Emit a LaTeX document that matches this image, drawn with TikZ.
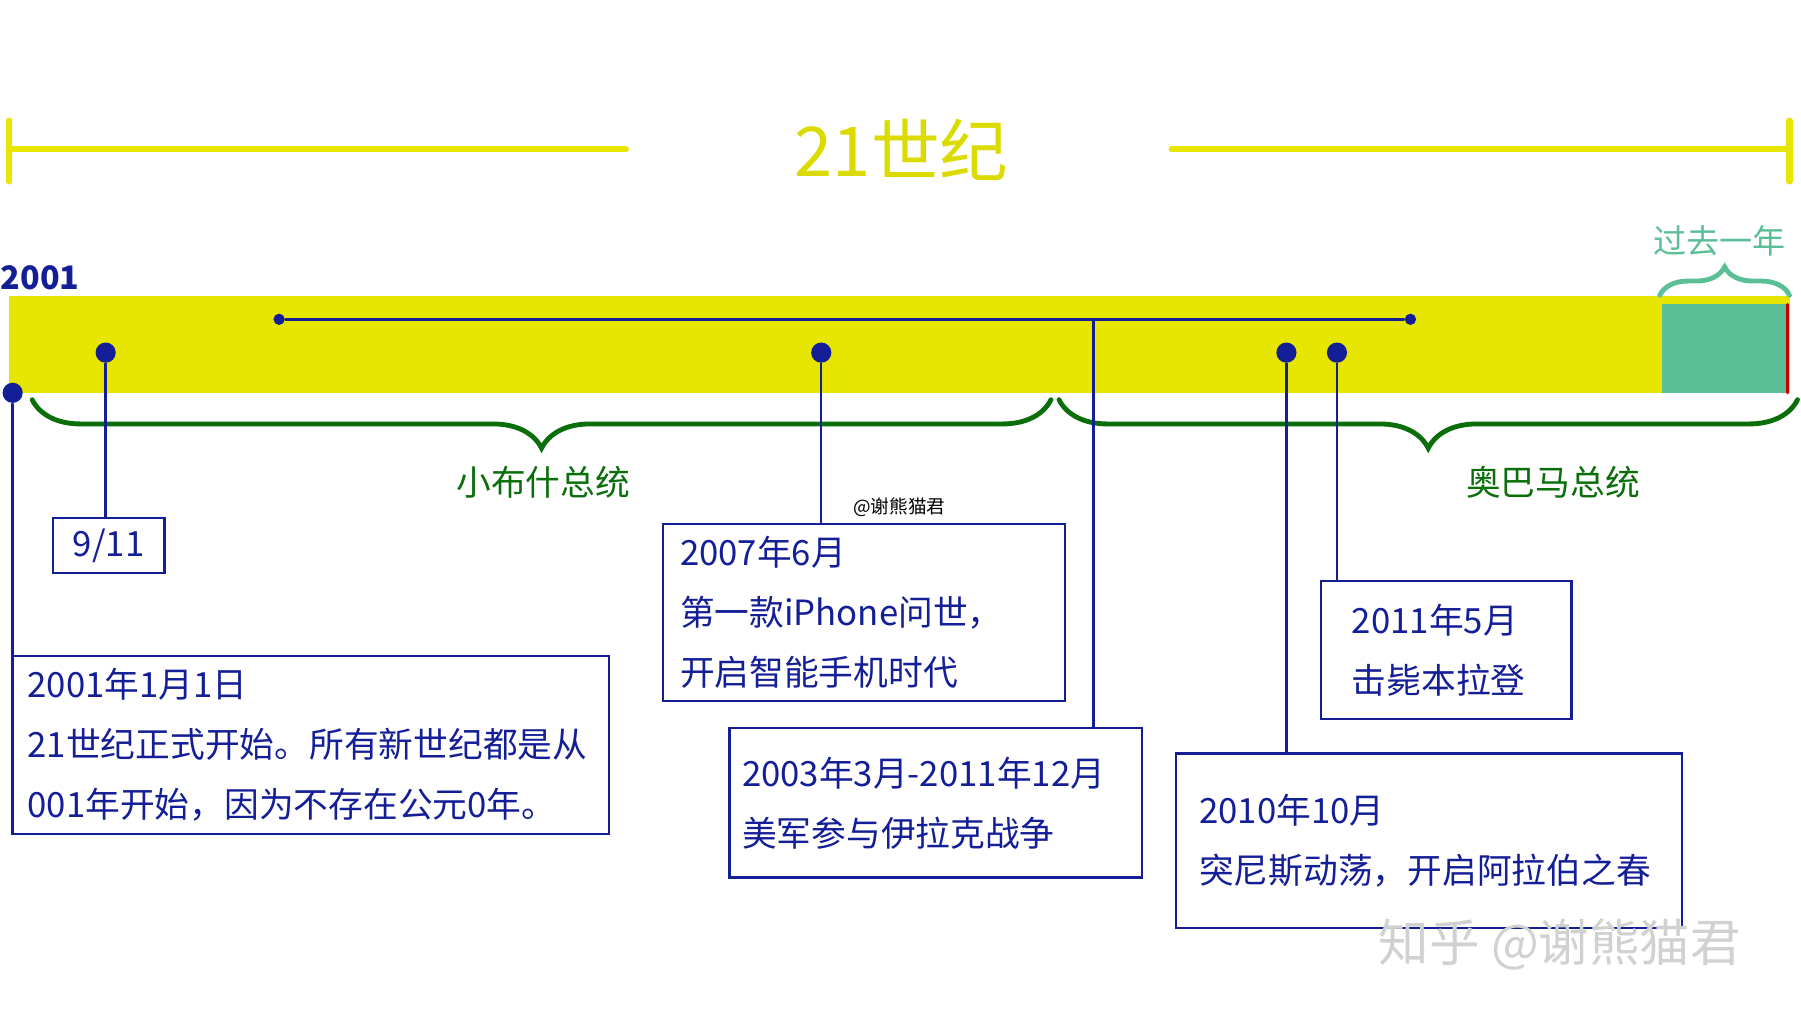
\documentclass[tikz,border=0pt]{standalone}
\usepackage{fontspec}
\setmainfont{Noto Sans CJK SC}
\usepackage{tikz}
\usetikzlibrary{decorations.pathreplacing}

\begin{document}
\begin{tikzpicture}
			[x=0.01cm,y=-0.01cm,line cap=round,
			%Styles
			event box/.style={draw=evblue,semithick,text=evblue,align=left,anchor=north west,
				inner sep=0pt,font=\fontsize{8.6}{14.8}\selectfont},
			dot/.style={circle,inner sep=0pt,minimum size=#1,fill=evblue},
			stem/.style={evblue,semithick},
			term brace/.style={decorate,decoration={brace,amplitude=12pt},draw=termgreen,very thick},
			term text/.style={text=termgreen,font=\fontsize{8.6}{10}\selectfont}
			]
			
			%Colors
			\definecolor{baryellow}{RGB}{230,230,0}
			\definecolor{evblue}{RGB}{20,30,150}
			\definecolor{termgreen}{RGB}{10,110,10}
			\definecolor{yeargreen}{RGB}{90,190,150}
			
			\useasboundingbox (0,0) rectangle (1568,885);
			
			%Century line
			\draw[baryellow,line width=1.5pt] (8,130) -- (545,130) (1020,130) -- (1558,130);
			\draw[baryellow,line width=1.5pt] (8,105) -- (8,158) (1558,105) -- (1558,158);
			\node[text=baryellow!95!black,font=\fontsize{17}{20}\selectfont] (century) at (785,130) {21世纪};
			
			%The bar
			\node[text=evblue,font=\bfseries\fontsize{8}{10}\selectfont] (start) at (35,242) {2001};
			\fill[baryellow] (8,258) rectangle (1558,342);
			\fill[yeargreen] (1447,265) rectangle (1556,342);
			\draw[red!80!black,thick] (1556,265) -- (1556,342);
			\draw[decorate,decoration={brace,amplitude=7pt},draw=yeargreen,very thick] (1445,257) -- (1558,257);
			\node[text=yeargreen,font=\fontsize{8.2}{10}\selectfont] (lastyear) at (1497,210) {过去一年};
			
			%Dots
			\node[dot=2.8pt] (warl) at (243,278) {};
			\node[dot=2.8pt] (warr) at (1228,278) {};
			\draw[stem] (warl) -- (warr);
			\node[dot=5pt] (d0101) at (11,342) {};
			\node[dot=5pt] (d0911) at (92,307) {};
			\node[dot=5pt] (d0706) at (715,307) {};
			\node[dot=5pt] (d1010) at (1120,307) {};
			\node[dot=5pt] (d1105) at (1164,307) {};
			\coordinate (war) at (952,278);
			
			%Terms
			\draw[term brace] (915,348) -- (28,348);
			\node[term text] (bush) at (473,420) {小布什总统};
			\draw[term brace] (1565,348) -- (922,348);
			\node[term text] (obama) at (1352,420) {奥巴马总统};
			
			%Events
			\node[event box,minimum width=0.97cm,minimum height=0.48cm,align=center] (b0911) at (45,450) {9/11};
			\node[event box,minimum width=5.19cm,minimum height=1.55cm,text width=5.19cm] (b0101) at (10,570)
				{\hspace*{0.13cm}2001年1月1日\\\hspace*{0.13cm}21世纪正式开始。所有新世纪都是从\\\hspace*{0.13cm}001年开始，因为不存在公元0年。};
			\node[event box,minimum width=3.5cm,minimum height=1.54cm,text width=3.5cm] (b0706) at (576,455)
				{\hspace*{0.15cm}2007年6月\\\hspace*{0.15cm}第一款iPhone问世，\\\hspace*{0.15cm}开启智能手机时代};
			\node[event box,minimum width=3.59cm,minimum height=1.3cm,text width=3.59cm] (bwar) at (634,633)
				{\hspace*{0.11cm}2003年3月-2011年12月\\\hspace*{0.11cm}美军参与伊拉克战争\\[0.1cm]};
			\node[event box,minimum width=2.18cm,minimum height=1.2cm,text width=2.18cm] (b1105) at (1149,505)
				{\hspace*{0.27cm}2011年5月\\\hspace*{0.27cm}击毙本拉登\\[-0.05cm]};
			\node[event box,minimum width=4.4cm,minimum height=1.52cm,text width=4.4cm] (b1010) at (1023,655)
				{\hspace*{0.2cm}2010年10月\\\hspace*{0.2cm}突尼斯动荡，开启阿拉伯之春\\[0.2cm]};
			
			\draw[stem] (d0101) -- (d0101 |- b0101.north);
			\draw[stem] (d0911) -- (d0911 |- b0911.north);
			\draw[stem] (d0706) -- (d0706 |- b0706.north);
			\draw[stem] (war) -- (war |- bwar.north);
			\draw[stem] (d1010) -- (d1010 |- b1010.north);
			\draw[stem] (d1105) -- (d1105 |- b1105.north);
			
			\node[font=\fontsize{4.6}{5}\selectfont] (tag) at (783,442) {@谢熊猫君};
			\node[text=black!18,font=\fontsize{12.5}{13}\selectfont] (mark) at (1358,822) {知乎 @谢熊猫君};
		\end{tikzpicture}
\end{document}
